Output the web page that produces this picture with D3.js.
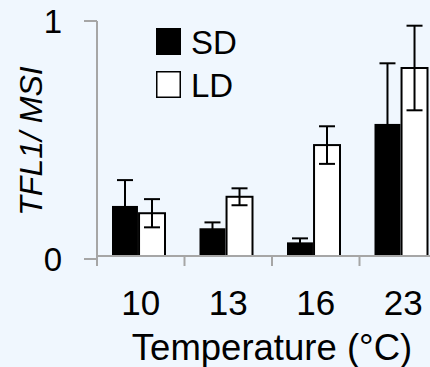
<!DOCTYPE html>
<html>
<head>
<meta charset="utf-8">
<script src="https://cdn.jsdelivr.net/npm/d3@7"></script>
<style>
  body { margin: 0; background: #f0f7fe; }
  svg { display: block; font-family: "Liberation Sans", Arial, sans-serif; }
</style>
</head>
<body>
<div id="graph"></div>
<script>
// data
var temps = ["10", "13", "16", "23"];
var seriesNames = ["SD", "LD"];
var sdValues = [0.213, 0.118, 0.058, 0.562];
var sdErrors = [0.11, 0.025, 0.017, 0.258];
var ldValues = [0.182, 0.252, 0.472, 0.80];
var ldErrors = [0.06, 0.036, 0.08, 0.18];
var yTicks = [0, 1];

var w = 430, h = 367;
var vis = d3.select("#graph").append("svg").attr("width", w).attr("height", h);

var x0 = d3.scaleBand().domain(temps).range([97, 447]);
var x1 = d3.scaleBand().domain(seriesNames).range([15, 68]).paddingInner(0.04);
var y = d3.scaleLinear().domain([0, 1]).range([256, 21]);

var rows = temps.map((t, i) => ({
  temp: t,
  bars: [
    { key: "SD", v: sdValues[i], e: sdErrors[i] },
    { key: "LD", v: ldValues[i], e: ldErrors[i] }
  ]
}));

var axisColor = "#a6a6a6";

// axes
vis.append("line")
   .attr("x1", 97).attr("x2", 97)
   .attr("y1", y(1)).attr("y2", 266)
   .attr("stroke", axisColor).attr("stroke-width", 2);

vis.selectAll("line.ytick")
   .data(yTicks)
   .enter().append("line")
   .attr("class", "ytick")
   .attr("x1", 84).attr("x2", 97)
   .attr("y1", d => d === 0 ? y(d) + 3 : y(d))
   .attr("y2", d => d === 0 ? y(d) + 3 : y(d))
   .attr("stroke", axisColor).attr("stroke-width", 2);

vis.selectAll("text.ytick")
   .data(yTicks)
   .enter().append("text")
   .attr("class", "ytick")
   .attr("x", 62)
   .attr("y", d => (d === 0 ? y(d) + 3 : y(d)) + 12)
   .attr("text-anchor", "end")
   .attr("font-size", 33)
   .text(d => d);

// group bars
var groups = vis.selectAll("g.grp")
   .data(rows)
   .enter().append("g")
   .attr("class", "grp")
   .attr("transform", d => "translate(" + x0(d.temp) + ",0)");

groups.selectAll("rect")
   .data(d => d.bars)
   .enter().append("rect")
   .attr("x", d => x1(d.key))
   .attr("y", d => y(d.v))
   .attr("width", x1.bandwidth())
   .attr("height", d => y(0) - y(d.v))
   .attr("fill", d => d.key === "SD" ? "#000" : "#fff")
   .attr("stroke", "#000")
   .attr("stroke-width", d => d.key === "SD" ? 0 : 2);

// error bars
var err = groups.selectAll("g.err")
   .data(d => d.bars)
   .enter().append("g")
   .attr("class", "err")
   .attr("stroke", "#000")
   .attr("stroke-width", 2);

err.append("line")
   .attr("x1", d => x1(d.key) + x1.bandwidth() / 2)
   .attr("x2", d => x1(d.key) + x1.bandwidth() / 2)
   .attr("y1", d => y(d.v + d.e))
   .attr("y2", d => y(Math.max(0, d.v - d.e)));
err.selectAll("line.cap")
   .data(d => [{ d: d, v: d.v + d.e }, { d: d, v: d.v - d.e }])
   .enter().append("line")
   .attr("class", "cap")
   .attr("x1", c => x1(c.d.key) + x1.bandwidth() / 2 - 8)
   .attr("x2", c => x1(c.d.key) + x1.bandwidth() / 2 + 8)
   .attr("y1", c => y(c.v))
   .attr("y2", c => y(c.v));

// x axis drawn over bar bottoms
vis.append("line")
   .attr("x1", 97).attr("x2", 447)
   .attr("y1", 256).attr("y2", 256)
   .attr("stroke", axisColor).attr("stroke-width", 2);

vis.selectAll("line.xtick")
   .data(temps.slice(1))
   .enter().append("line")
   .attr("class", "xtick")
   .attr("x1", d => x0(d)).attr("x2", d => x0(d))
   .attr("y1", 256).attr("y2", 266)
   .attr("stroke", axisColor).attr("stroke-width", 2);

vis.selectAll("text.xtick")
   .data(temps)
   .enter().append("text")
   .attr("class", "xtick")
   .attr("x", d => x0(d) + x0.bandwidth() / 2)
   .attr("y", 315)
   .attr("text-anchor", "middle")
   .attr("font-size", 35)
   .text(d => d);

vis.append("text")
   .attr("x", 272).attr("y", 360)
   .attr("text-anchor", "middle")
   .attr("font-size", 36.5)
   .text("Temperature (°C)");

vis.append("text")
   .attr("transform", "translate(42,141) rotate(-90)")
   .attr("text-anchor", "middle")
   .attr("font-size", 32)
   .attr("font-style", "italic")
   .text("TFL1/ MSI");

// legend
var legend = vis.selectAll("g.legend")
   .data(seriesNames)
   .enter().append("g")
   .attr("class", "legend")
   .attr("transform", (d, i) => "translate(156," + (28 + i * 43) + ")");

legend.append("rect")
   .attr("x", d => d === "SD" ? 0 : 0.75)
   .attr("y", d => d === "SD" ? 0 : 0.75)
   .attr("width", d => d === "SD" ? 25 : 23.5)
   .attr("height", d => d === "SD" ? 27 : 25.5)
   .attr("fill", d => d === "SD" ? "#000" : "#fff")
   .attr("stroke", "#000")
   .attr("stroke-width", d => d === "SD" ? 0 : 1.5);

legend.append("text")
   .attr("x", 35).attr("y", 26)
   .attr("font-size", 33)
   .text(d => d);
</script>
</body>
</html>
